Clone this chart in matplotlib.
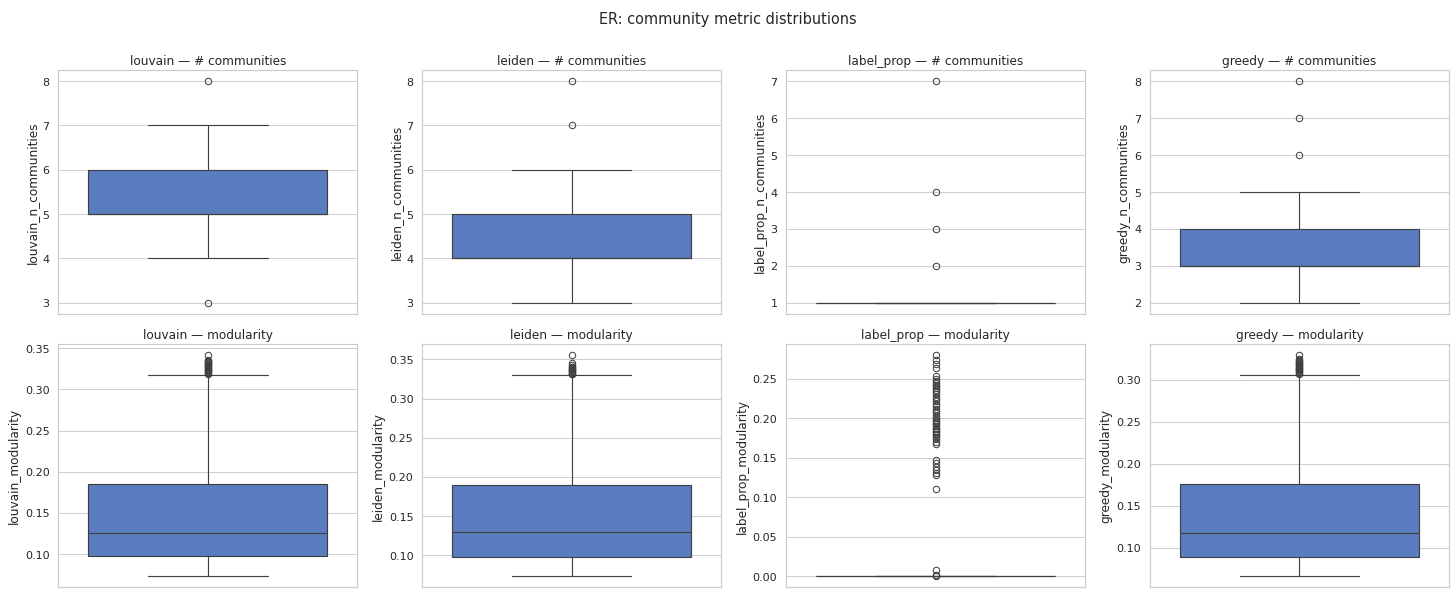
import matplotlib
matplotlib.use("Agg")
import matplotlib.pyplot as plt
import seaborn as sns

# values (box stats per method)
METHODS = ["louvain", "leiden", "label_prop", "greedy"]

NCOMM_WHISLO = [4, 3, 1, 2]
NCOMM_Q1 = [5, 4, 1, 3]
NCOMM_MED = [5, 4, 1, 3]
NCOMM_Q3 = [6, 5, 1, 4]
NCOMM_WHISHI = [7, 6, 1, 5]
NCOMM_FLIERS = [
    [3, 8],
    [7, 8],
    [2, 3, 4, 7],
    [6, 7, 8],
]

MOD_WHISLO = [0.073, 0.073, 0.0, 0.066]
MOD_Q1 = [0.097, 0.098, 0.0, 0.089]
MOD_MED = [0.126, 0.129, 0.0, 0.118]
MOD_Q3 = [0.185, 0.190, 0.0, 0.176]
MOD_WHISHI = [0.318, 0.330, 0.0, 0.306]
MOD_FLIERS = [
    [0.319, 0.320, 0.321, 0.322, 0.323, 0.324, 0.325, 0.326, 0.327,
     0.328, 0.329, 0.330, 0.331, 0.332, 0.333, 0.334, 0.335, 0.336, 0.342],
    [0.331, 0.332, 0.333, 0.334, 0.335, 0.336, 0.337, 0.338, 0.339,
     0.340, 0.341, 0.343, 0.346, 0.356],
    [0.0, 0.001, 0.008, 0.110, 0.128, 0.131, 0.134, 0.138, 0.143, 0.147,
     0.167, 0.170, 0.173, 0.176, 0.178, 0.180, 0.182, 0.184, 0.186,
     0.188, 0.190, 0.192, 0.194, 0.196, 0.198, 0.200, 0.203, 0.206,
     0.209, 0.212, 0.215, 0.218, 0.221, 0.224, 0.227, 0.230, 0.233,
     0.236, 0.238, 0.240, 0.242, 0.244, 0.247, 0.250, 0.253,
     0.263, 0.268, 0.274, 0.280],
    [0.307, 0.308, 0.309, 0.310, 0.311, 0.312, 0.313, 0.314, 0.315,
     0.316, 0.317, 0.318, 0.319, 0.320, 0.321, 0.322, 0.323, 0.325, 0.3295],
]

sns.set_theme(style="whitegrid", palette="muted", font_scale=1.1)
box_color = sns.desaturate(sns.color_palette("muted")[0], 0.75)
line_color = "#3f3f3f"

fig, axes = plt.subplots(2, 4, figsize=(22, 9), dpi=1456 / 22)
fig.subplots_adjust(left=0.040, right=0.9952, top=0.8812, bottom=0.0129,
                    wspace=0.217, hspace=0.123)
fig.suptitle("ER: community metric distributions")

rows = [
    ("n_communities", "# communities",
     NCOMM_WHISLO, NCOMM_Q1, NCOMM_MED, NCOMM_Q3, NCOMM_WHISHI, NCOMM_FLIERS),
    ("modularity", "modularity",
     MOD_WHISLO, MOD_Q1, MOD_MED, MOD_Q3, MOD_WHISHI, MOD_FLIERS),
]

for r, (col, label, wlo, q1, med, q3, whi, fl) in enumerate(rows):
    for c, m in enumerate(METHODS):
        ax = axes[r, c]
        stats = [{
            "whislo": wlo[c], "q1": q1[c], "med": med[c],
            "q3": q3[c], "whishi": whi[c], "fliers": fl[c],
        }]
        ax.bxp(stats, positions=[0], widths=0.8, capwidths=0.4,
               patch_artist=True, manage_ticks=False,
               boxprops=dict(facecolor=box_color, edgecolor=line_color, linewidth=1.25),
               medianprops=dict(color=line_color, linewidth=1.25),
               whiskerprops=dict(color=line_color, linewidth=1.25),
               capprops=dict(color=line_color, linewidth=1.25),
               flierprops=dict(marker="o", markersize=7, markerfacecolor="none",
                               markeredgecolor=line_color, markeredgewidth=1.1))
        ax.set_xlim(-0.5, 0.5)
        ax.set_xticks([])
        ax.set_ylabel(f"{m}_{col}")
        ax.set_title(f"{m} \u2014 {label}")

plt.savefig("out.png")
